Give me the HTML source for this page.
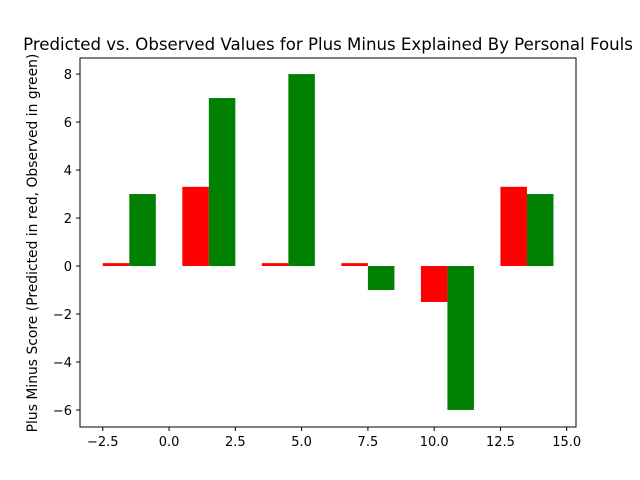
<!DOCTYPE html>
<html><head><meta charset="utf-8"><style>
body{margin:0;background:#fff;}
svg{display:block;font-family:"DejaVu Sans","Liberation Sans",sans-serif;}
</style></head><body>
<svg id="chart" width="640" height="480"></svg>
<script>
const groupCenters=[-1.5,1.5,4.5,7.5,10.5,13.5];
const predicted=[0.12,3.3,0.12,0.12,-1.5,3.3];
const observed=[3,7,8,-1,-6,3];
const xTicks=[-2.5,0.0,2.5,5.0,7.5,10.0,12.5,15.0];
const yTicks=[-6,-4,-2,0,2,4,6,8];
const L=80,R=576,T=58,B=427;
const xMin=-3.36,xMax=15.35,yMin=-6.71,yMax=8.67;
const sx=v=>L+(v-xMin)/(xMax-xMin)*(R-L);
const sy=v=>B-(v-yMin)/(yMax-yMin)*(B-T);
const NS="http://www.w3.org/2000/svg";
const svg=document.getElementById('chart');
function mk(t,a){const e=document.createElementNS(NS,t);for(const k in a)e.setAttribute(k,a[k]);svg.appendChild(e);return e;}
function bar(x0,v,color,name){
  const y0=sy(Math.max(v,0)),y1=sy(Math.min(v,0));
  const r=mk('rect',{x:sx(x0),y:y0,width:sx(x0+1)-sx(x0),height:y1-y0,fill:color});
  
  
}
groupCenters.forEach((c,i)=>{
  bar(c-1,predicted[i],'#ff0000','predicted-bar-'+i);
  bar(c,observed[i],'#008000','observed-bar-'+i);
});
const ax=mk('rect',{x:L,y:T,width:R-L,height:B-T,fill:'none',stroke:'#000','stroke-width':1});


xTicks.forEach(t=>{
  const x=sx(t);
  mk('line',{x1:x,x2:x,y1:B,y2:B+4,stroke:'#000'});
  const tx=mk('text',{x:x,y:B+19,'text-anchor':'middle','font-size':13});
  tx.textContent=(t<0?'\u2212':'')+Math.abs(t).toFixed(1);
  
  
});
yTicks.forEach(t=>{
  const y=sy(t);
  mk('line',{x1:L-4,x2:L,y1:y,y2:y,stroke:'#000'});
  const tx=mk('text',{x:L-8,y:y+5,'text-anchor':'end','font-size':13});
  tx.textContent=(t<0?'\u2212':'')+Math.abs(t);
  
  
});
const title=mk('text',{x:328,y:50,'text-anchor':'middle','font-size':16.6});
title.textContent='Predicted vs. Observed Values for Plus Minus Explained By Personal Fouls';


const yl=mk('text',{x:37,y:243,'text-anchor':'middle','font-size':13.9,transform:'rotate(-90 37 243)'});
yl.textContent='Plus Minus Score (Predicted in red, Observed in green)';


</script>
</body></html>
